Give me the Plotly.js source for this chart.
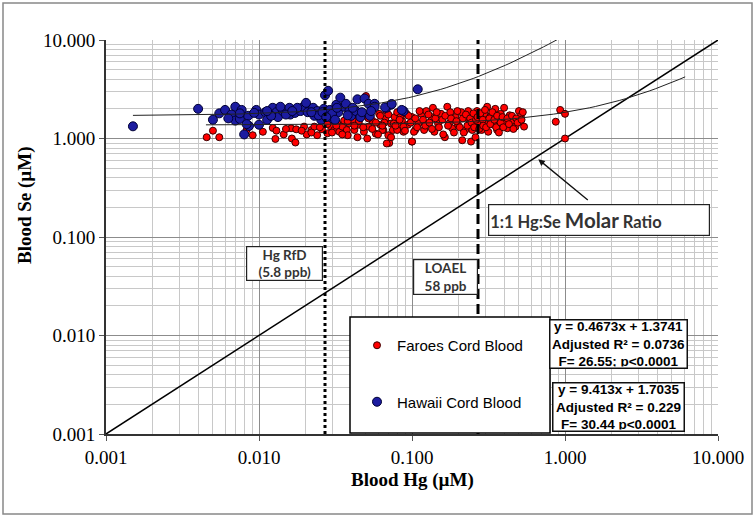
<!DOCTYPE html>
<html><head><meta charset="utf-8">
<script src="https://cdn.plot.ly/plotly-3.0.1.min.js"></script>
<style>html,body{margin:0;padding:0;background:#fff}#chart{width:756px;height:518px}</style>
</head><body><div id="chart"></div>
<script>
// Faroes cord blood (red)
const faroesHg = [0.00455,0.005,0.0055,0.0083,0.0091,0.0106,0.0123,0.0128,0.0145,0.0162,0.0164,0.0173,0.0175,0.0197,0.0205,0.022,0.023,0.024,0.0258,0.028,0.0295,0.031,0.0325,0.0335,0.035,0.036,0.0375,0.038,0.039,0.041,0.042,0.044,0.045,0.047,0.0485,0.050,0.051,0.052,0.055,0.058,0.061,0.062,0.065,0.067,0.068,0.07,0.071,0.073,0.075,0.077,0.08,0.082,0.086,0.088,0.092,0.094,0.1,0.1,0.105,
0.0684,0.064,0.073,0.076,0.08,0.084,0.088,0.1,0.103,0.11,0.115,0.12,0.124,0.134,0.137,0.14,0.148,0.155,0.164,0.17,0.175,0.183,0.192,0.2,0.21,0.213,0.223,0.233,0.238,0.243,0.248,0.26,0.266,0.272,0.285,0.297,0.30,0.31,0.315,0.33,0.34,0.35,0.36,0.375,0.38,0.4,0.41,0.42,0.435,0.455,0.475,0.5,0.505,0.515,0.54,0.93,0.87,1.0,1.0,
0.066,0.07,0.078,0.083,0.09,0.095,0.098,0.105,0.108,0.112,0.118,0.122,0.128,0.13,0.135,0.142,0.145,0.15,0.158,0.16,0.165,0.172,0.178,0.18,0.188,0.195,0.198,0.205,0.215,0.218,0.225,0.23,0.24,0.245,0.252,0.255,0.262,0.268,0.275,0.28,0.29,0.292,0.3,0.305,0.32,0.325,0.335,0.345,0.355,0.36,0.37,0.38,0.39,0.395,0.42,0.43,0.45,0.46,0.48,0.49,0.52,0.53,0.045,0.048,0.052,0.055,0.058,0.06,0.062,0.064,0.035,0.038,0.042,0.028,0.025,0.03,0.032,0.022,0.019,0.013,0.015];
const faroesSe = [1.03,1.2,1.03,1.22,1.08,1.17,1.28,0.99,1.1,1.27,1.0,0.91,1.24,1.32,1.1,1.22,1.32,1.08,1.24,1.13,1.32,1.22,1.42,1.17,1.32,1.52,1.22,1.08,1.42,1.55,1.22,1.03,1.38,1.67,1.17,2.7,1.0,1.32,1.52,1.12,1.78,1.38,1.22,1.58,1.9,1.08,0.9,1.42,1.22,1.65,1.85,1.32,1.52,1.17,1.78,1.38,1.65,0.93,1.22,
0.89,1.22,1.03,1.42,1.22,1.65,1.32,0.93,1.17,1.42,1.78,1.22,1.9,1.65,2.05,1.17,1.42,1.78,1.03,2.1,1.42,1.27,1.65,1.38,1.85,0.96,1.22,1.9,1.52,0.93,1.22,1.03,1.9,1.42,1.22,1.78,1.48,2.1,1.17,1.72,1.38,2.0,1.22,1.52,1.78,2.05,1.42,1.27,1.72,1.52,1.32,1.9,1.48,1.7,1.32,1.95,1.48,1.78,1.0,
1.45,1.75,1.35,1.55,1.2,1.7,1.45,1.6,1.3,1.9,1.55,1.35,1.75,1.45,1.25,1.6,1.85,1.3,1.55,1.1,1.7,1.35,1.85,1.6,1.15,1.5,1.9,1.3,1.6,1.15,1.75,1.35,1.6,1.45,1.8,1.3,1.55,1.65,1.25,1.8,1.55,1.35,1.95,1.3,1.6,1.4,1.85,1.55,1.3,1.7,1.15,1.45,1.65,1.3,1.6,1.4,1.7,1.25,1.6,1.45,1.55,1.85,1.5,1.3,1.6,1.25,1.45,1.1,1.7,1.35,1.1,1.5,1.35,1.4,1.3,1.15,1.35,1.15,1.2,1.2,1.25];

// Hawaii cord blood (blue)
const hawaiiHg = [0.0015,0.004,0.005,0.0055,0.006,0.007,0.0066,0.007,0.0077,0.0075,0.008,0.0085,0.0086,0.0096,0.01,0.011,0.0113,0.0123,0.013,0.0133,0.0143,0.0158,0.016,0.0172,0.0187,0.0195,0.0203,0.0208,0.0226,0.023,0.024,0.0255,0.0265,0.027,0.0283,0.029,0.0302,0.032,0.033,0.034,0.036,0.037,0.039,0.04,0.043,0.044,0.046,0.049,0.052,0.053,0.057,0.057,0.068,0.073,0.088,0.109,0.0667,0.0737,0.0857,
0.0063,0.0083,0.01,0.0093,0.012,0.015,0.0178,0.0245,0.026,0.03,0.0314,0.0323,0.038,0.041,0.047,0.054,0.0138,0.022,0.0275,0.0113,0.0075,0.0165];
const hawaiiSe = [1.33,2.0,1.55,1.8,1.95,2.1,1.75,1.52,1.95,1.58,1.1,1.7,1.34,1.95,1.75,1.85,1.55,2.05,1.85,1.65,1.9,2.05,1.75,1.82,1.9,2.1,2.3,1.85,2.05,1.7,1.9,1.55,2.0,2.75,3.05,1.95,1.6,2.2,1.85,2.6,2.1,2.25,1.9,1.7,1.9,2.5,1.65,2.55,2.25,1.7,2.25,2.1,2.05,2.2,1.9,3.16,2.07,2.24,1.95,
1.6,1.4,1.38,1.82,1.7,1.75,2.05,1.72,1.85,1.78,1.55,2.05,1.72,2.05,1.85,1.9,2.1,1.85,1.65,1.9,1.8,1.9];

// Linear fits shown on the chart (slope, intercept) and the x extent of each trendline
const faroesFit = [0.4673, 1.3741];
const faroesFitRange = [0.0045, 6.1];
const hawaiiFit = [9.413, 1.7035];
const hawaiiFitRange = [0.0015, 1.0];

// 1:1 molar ratio line
const ratioHg = [0.001, 10];
const ratioSe = [0.001, 10];

// Reference levels (Hg RfD 5.8 ppb, LOAEL 58 ppb) in µM
const refHg = [0.027, 0.27];

const tickVals = [0.001, 0.01, 0.1, 1, 10];
const tickText = ['0.001', '0.010', '0.100', '1.000', '10.000'];

function fitCurve(fit, range) {
  const xs = [], ys = [], n = 80;
  const a = Math.log10(range[0]), b = Math.log10(range[1]);
  for (let i = 0; i <= n; i++) {
    const x = Math.pow(10, a + (b - a) * i / n);
    xs.push(x); ys.push(fit[0] * x + fit[1]);
  }
  return {x: xs, y: ys};
}
const fc = fitCurve(faroesFit, faroesFitRange);
const hc = fitCurve(hawaiiFit, hawaiiFitRange);

const minorVals = [];
for (let e = -3; e < 1; e++) for (let d = 2; d <= 9; d++) minorVals.push(d * Math.pow(10, e));

const L = 106, R = 718, T = 40, B = 434, W = R - L, H = B - T;
const px = v => (v - L) / W;
const py = v => (B - v) / H;

const traces = [
  {x: ratioHg, y: ratioSe, mode: 'lines', line: {color: '#000', width: 1.5}, showlegend: false, hoverinfo: 'skip'},
  {x: faroesHg, y: faroesSe, mode: 'markers', name: 'Faroes Cord Blood', legendgroup: 'f',
   marker: {color: '#ff0000', size: 7, line: {color: '#3a0000', width: 1}}},
  {x: hawaiiHg, y: hawaiiSe, mode: 'markers', name: 'Hawaii Cord Blood', legendgroup: 'h',
   marker: {color: '#1c1ca0', size: 9, line: {color: '#000033', width: 1}}},
  {x: fc.x, y: fc.y, mode: 'lines', line: {color: '#222', width: 1}, showlegend: false, hoverinfo: 'skip'},
  {x: hc.x, y: hc.y, mode: 'lines', line: {color: '#222', width: 1}, showlegend: false, hoverinfo: 'skip'}
];

const axisCommon = {
  type: 'log', range: [-3, 1], tickmode: 'array', tickvals: tickVals, ticktext: tickText,
  showgrid: true, gridcolor: '#8c8c8c', gridwidth: 1, zeroline: false,
  showline: true, linecolor: '#333', linewidth: 2, ticks: 'outside', ticklen: 5, tickcolor: '#555',
  tickfont: {family: 'Liberation Serif', size: 19, color: '#000'},
  minor: {tickmode: 'array', tickvals: minorVals, showgrid: true, gridcolor: '#c8c8c8', gridwidth: 1, ticks: ''}
};

const calib = {family: 'Lato', size: 13.5, color: '#333', weight: 'bold'};
const eqFont = {family: 'Liberation Sans', size: 13.5, color: '#000', weight: 'bold'};
const box = {showarrow: false, xref: 'paper', yref: 'paper', xanchor: 'center', yanchor: 'middle'};

const layout = {
  width: 756, height: 518,
  margin: {l: L, r: 756 - R, t: T, b: 518 - B},
  paper_bgcolor: '#fff', plot_bgcolor: '#fff',
  xaxis: Object.assign({}, axisCommon),
  yaxis: Object.assign({}, axisCommon),
  showlegend: true,
  legend: {x: px(357), xanchor: 'left', y: py(329), yanchor: 'top', bgcolor: 'rgba(0,0,0,0)', borderwidth: 0,
           font: {family: 'Liberation Sans', size: 15, color: '#000'}, traceorder: 'grouped', tracegroupgap: 34},
  shapes: [
    {type: 'rect', xref: 'paper', yref: 'paper', x0: px(3), x1: px(752), y0: py(514), y1: py(3), line: {color: '#888', width: 1.5}},
    {type: 'line', xref: 'x', yref: 'paper', x0: refHg[0], x1: refHg[0], y0: 0, y1: 1, line: {color: '#000', width: 3, dash: '3px,3px'}},
    {type: 'line', xref: 'x', yref: 'paper', x0: refHg[1], x1: refHg[1], y0: 0, y1: 1, line: {color: '#000', width: 3, dash: '10px,5px'}},
    {type: 'rect', xref: 'paper', yref: 'paper', x0: px(350), x1: px(550), y0: py(433), y1: py(317), layer: 'above', fillcolor: '#fff', line: {color: '#000', width: 1.5}}
  ],
  annotations: [
    Object.assign({}, box, {x: 0.5, y: py(480), text: 'Blood Hg (µM)',
     font: {family: 'Liberation Serif', size: 19, color: '#000', weight: 'bold'}}),
    Object.assign({}, box, {x: px(25), y: py(205), text: 'Blood Se (µM)', textangle: -90,
     font: {family: 'Liberation Serif', size: 19, color: '#000', weight: 'bold'}}),
    Object.assign({}, box, {x: px(284), y: py(263.5), text: 'Hg RfD<br>(5.8 ppb)', width: 73, height: 31,
     bgcolor: '#fff', bordercolor: '#222', borderwidth: 1.2, borderpad: 1, font: calib}),
    Object.assign({}, box, {x: px(445.5), y: py(277), text: 'LOAEL<br>58 ppb', width: 61, height: 32,
     bgcolor: '#fff', bordercolor: '#222', borderwidth: 1.2, borderpad: 1, font: calib}),
    Object.assign({}, box, {x: px(599), y: py(219.5), text: '1:1 Hg:Se <span style="font-size:20.5px">Molar</span> Ratio',
     width: 218, height: 28, align: 'left', bgcolor: '#fff', bordercolor: '#222', borderwidth: 1.2, borderpad: 1,
     font: {family: 'Lato', size: 16.5, color: '#333', weight: 'bold'}}),
    {xref: 'paper', yref: 'paper', x: px(538.3), y: py(159.3), text: '', showarrow: true, axref: 'pixel', ayref: 'pixel', ax: 51, ay: 42,
     arrowhead: 2, arrowsize: 1, arrowwidth: 1.3, arrowcolor: '#111'},
    Object.assign({}, box, {x: px(618.5), y: py(344), text: 'y = 0.4673x + 1.3741<br>Adjusted R² = 0.0736<br>F= 26.55; p<0.0001',
     width: 134, height: 45, bgcolor: '#fff', bordercolor: '#111', borderwidth: 1.5, borderpad: 1, font: eqFont}),
    Object.assign({}, box, {x: px(618.5), y: py(407), text: 'y = 9.413x + 1.7035<br>Adjusted R² = 0.229<br>F= 30.44 p<0.0001',
     width: 128, height: 45, bgcolor: '#fff', bordercolor: '#111', borderwidth: 1.5, borderpad: 1, font: eqFont})
  ]
};

Plotly.newPlot('chart', traces, layout, {displayModeBar: false, staticPlot: true});
</script>
</body></html>
